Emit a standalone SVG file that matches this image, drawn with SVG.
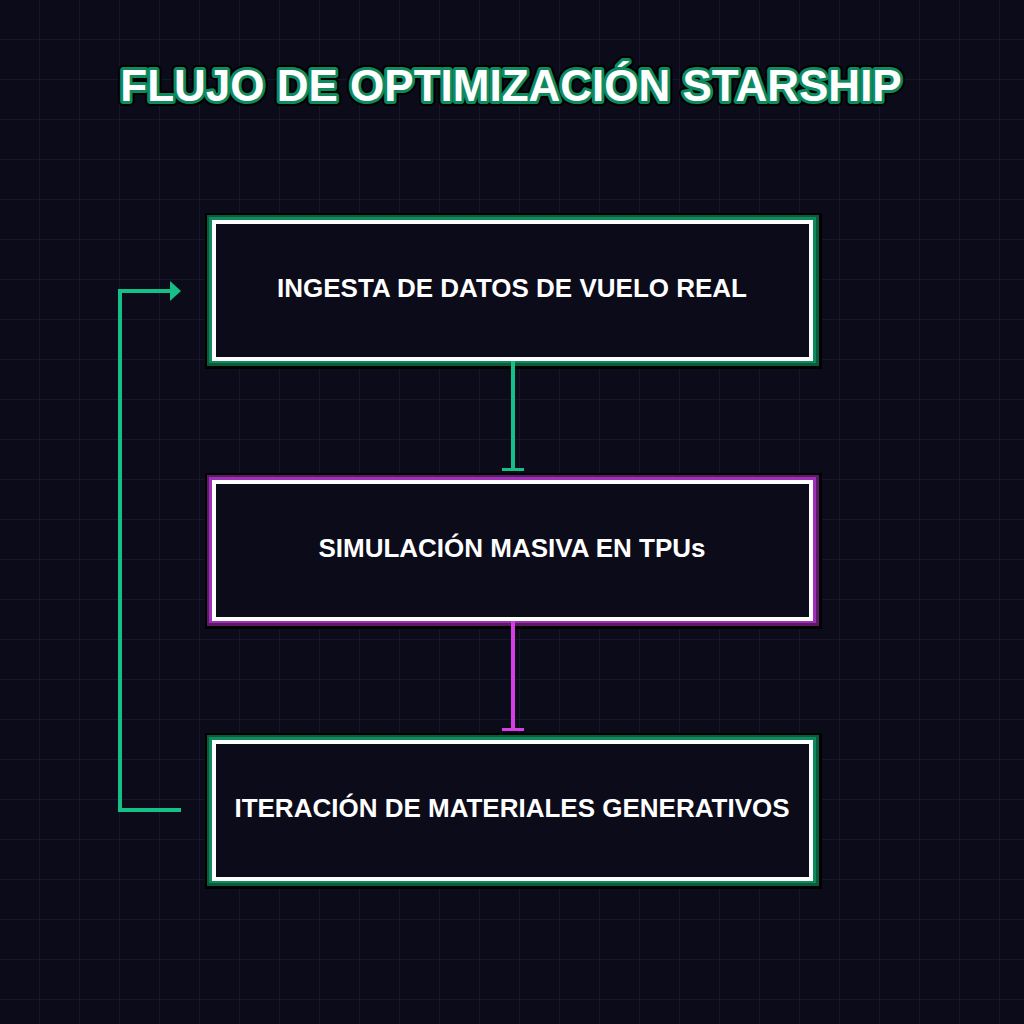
<svg xmlns="http://www.w3.org/2000/svg" width="1024" height="1024" viewBox="0 0 1024 1024">
<defs>
<pattern id="grid" width="40" height="40" patternUnits="userSpaceOnUse">
<path d="M40 0V40M0 40H40" fill="none" stroke="#1a1930" stroke-width="1.5"/>
</pattern>
<marker id="tee-g" markerWidth="6" markerHeight="24" refX="3" refY="12" orient="auto" markerUnits="userSpaceOnUse" viewBox="0 0 6 24">
<rect x="1" y="1" width="3" height="22" fill="#14c088"/>
</marker>
<marker id="tee-m" markerWidth="6" markerHeight="24" refX="3" refY="12" orient="auto" markerUnits="userSpaceOnUse" viewBox="0 0 6 24">
<rect x="1" y="1" width="3" height="22" fill="#d63ee6"/>
</marker>
<marker id="arrow-g" markerWidth="12" markerHeight="20" refX="1" refY="10" orient="auto" markerUnits="userSpaceOnUse" viewBox="0 0 12 20">
<path d="M0 0L11 10L0 20Z" fill="#14c088"/>
</marker>
</defs>
<style>
.title{font-family:"Liberation Sans",Arial,sans-serif;font-weight:bold;font-size:44px;text-anchor:middle}
.label{font-family:"Liberation Sans",Arial,sans-serif;font-weight:bold;font-size:26px;text-anchor:middle;fill:#ffffff}
.frame{fill:#0c0b1a;stroke:#ffffff;stroke-width:4}
.shadow{fill:#000000}
.edge{fill:none;stroke-width:4}
</style>
<rect width="1024" height="1024" fill="#0c0b1a"/>
<rect width="1024" height="1024" fill="url(#grid)"/>

<g id="title">
<text class="title" x="511" y="101" fill="none" stroke="#000" stroke-width="10" stroke-linejoin="round">FLUJO DE OPTIMIZACIÓN STARSHIP</text>
<text class="title" x="511" y="101" fill="none" stroke="#0f8a5e" stroke-width="6" stroke-linejoin="round">FLUJO DE OPTIMIZACIÓN STARSHIP</text>
<text class="title" x="511" y="101" fill="#ffffff">FLUJO DE OPTIMIZACIÓN STARSHIP</text>
</g>

<g id="node-ingesta">
<rect class="shadow" x="205" y="213" width="617" height="156"/>
<rect x="207" y="215" width="612" height="151" fill="#0a5a3c"/>
<rect x="209" y="217" width="607" height="146" fill="#0f8a5e"/>
<rect class="frame" x="214" y="222" width="597" height="137"/>
<text class="label" x="512" y="297">INGESTA DE DATOS DE VUELO REAL</text>
</g>

<g id="node-simulacion">
<rect class="shadow" x="205" y="473" width="617" height="156"/>
<rect x="207" y="475" width="612" height="151" fill="#5a1a66"/>
<rect x="209" y="477" width="607" height="146" fill="#a030b8"/>
<rect class="frame" x="214" y="482" width="597" height="137"/>
<text class="label" x="512" y="557">SIMULACIÓN MASIVA EN TPUs</text>
</g>

<g id="node-iteracion">
<rect class="shadow" x="205" y="733" width="617" height="156"/>
<rect x="207" y="735" width="612" height="151" fill="#0a5a3c"/>
<rect x="209" y="737" width="607" height="146" fill="#0f8a5e"/>
<rect class="frame" x="214" y="742" width="597" height="137"/>
<text class="label" x="512" y="817">ITERACIÓN DE MATERIALES GENERATIVOS</text>
</g>

<g id="connectors">
<path class="edge" d="M513 361V470" stroke="#14c088" marker-end="url(#tee-g)"/>
<path class="edge" d="M513 621V730" stroke="#d63ee6" marker-end="url(#tee-m)"/>
<path class="edge" d="M181 810H120V291H171" stroke="#14c088" marker-end="url(#arrow-g)"/>
</g>
</svg>
